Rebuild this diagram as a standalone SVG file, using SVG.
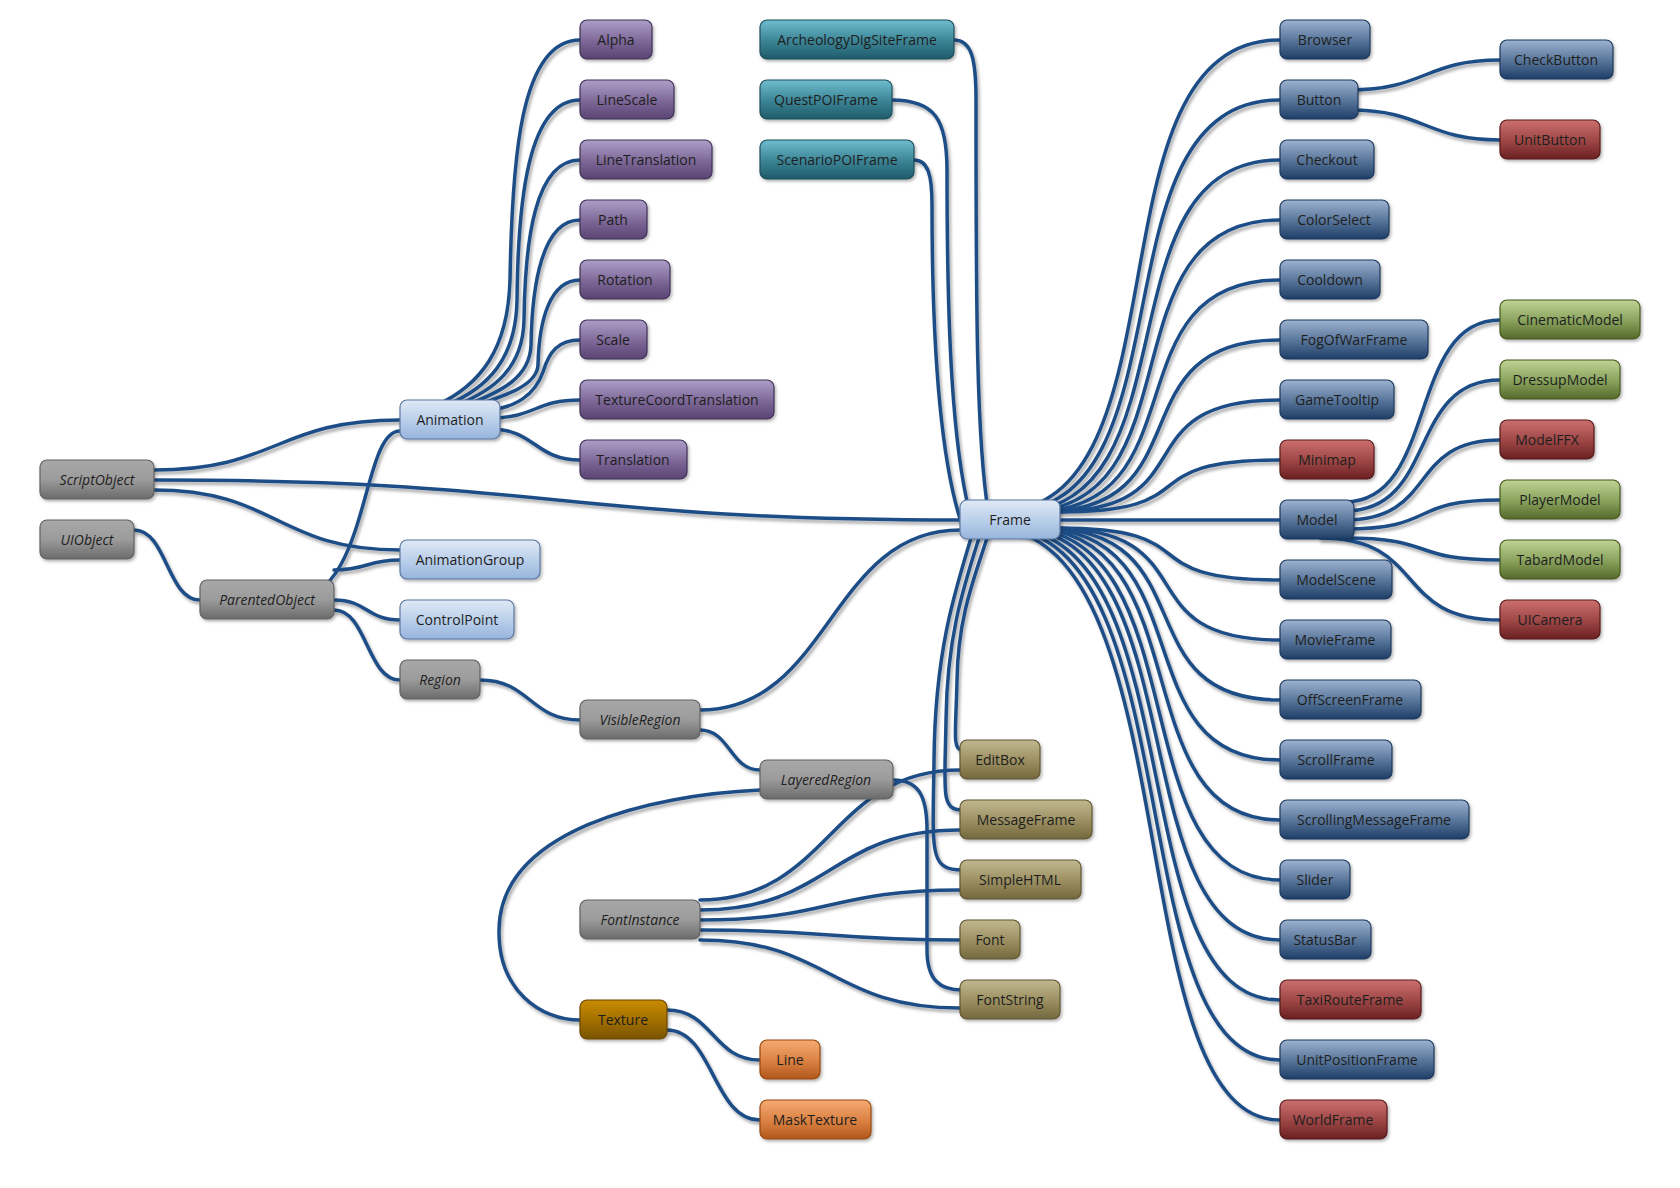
<svg xmlns="http://www.w3.org/2000/svg" width="1680" height="1188" viewBox="0 0 1680 1188">
<defs>
<linearGradient id="gGray" x1="0" y1="0" x2="0" y2="1"><stop offset="0" stop-color="#a9a9a9"/><stop offset="0.5" stop-color="#9b9b9b"/><stop offset="1" stop-color="#6b6b6b"/></linearGradient>
<linearGradient id="gLight" x1="0" y1="0" x2="0" y2="1"><stop offset="0" stop-color="#dfe9f6"/><stop offset="0.6" stop-color="#b4cbe8"/><stop offset="1" stop-color="#97b4db"/></linearGradient>
<linearGradient id="gPurple" x1="0" y1="0" x2="0" y2="1"><stop offset="0" stop-color="#ad9fc8"/><stop offset="0.55" stop-color="#7c6797"/><stop offset="1" stop-color="#594473"/></linearGradient>
<linearGradient id="gTeal" x1="0" y1="0" x2="0" y2="1"><stop offset="0" stop-color="#6fbdcf"/><stop offset="0.55" stop-color="#3a8394"/><stop offset="1" stop-color="#1f5b69"/></linearGradient>
<linearGradient id="gBlue" x1="0" y1="0" x2="0" y2="1"><stop offset="0" stop-color="#9db2d0"/><stop offset="0.55" stop-color="#557398"/><stop offset="1" stop-color="#1f3d67"/></linearGradient>
<linearGradient id="gRed" x1="0" y1="0" x2="0" y2="1"><stop offset="0" stop-color="#cc706e"/><stop offset="0.55" stop-color="#9c4545"/><stop offset="1" stop-color="#6a2020"/></linearGradient>
<linearGradient id="gOlive" x1="0" y1="0" x2="0" y2="1"><stop offset="0" stop-color="#c2b890"/><stop offset="0.55" stop-color="#9a8e60"/><stop offset="1" stop-color="#73683d"/></linearGradient>
<linearGradient id="gGreen" x1="0" y1="0" x2="0" y2="1"><stop offset="0" stop-color="#c0d495"/><stop offset="0.55" stop-color="#87a15b"/><stop offset="1" stop-color="#55692a"/></linearGradient>
<linearGradient id="gTex" x1="0" y1="0" x2="0" y2="1"><stop offset="0" stop-color="#c98b00"/><stop offset="0.55" stop-color="#a06e00"/><stop offset="1" stop-color="#795300"/></linearGradient>
<linearGradient id="gOrange" x1="0" y1="0" x2="0" y2="1"><stop offset="0" stop-color="#f5aa72"/><stop offset="0.55" stop-color="#da8142"/><stop offset="1" stop-color="#b0571a"/></linearGradient>
<filter id="lsh" x="-5%" y="-5%" width="110%" height="110%"><feDropShadow dx="2" dy="3" stdDeviation="1.6" flood-color="#000" flood-opacity="0.32"/></filter>
<filter id="nsh" x="-10%" y="-20%" width="120%" height="150%"><feDropShadow dx="1.5" dy="2" stdDeviation="1.5" flood-color="#000" flood-opacity="0.3"/></filter>
</defs>
<style>
.c path{fill:none;stroke:#1f4d86;stroke-width:3.5;stroke-linecap:round}
.n rect{stroke-width:1.2;filter:url(#nsh)}
.n text{font-family:"Open Sans","Noto Sans","Liberation Sans",sans-serif;font-size:14px;fill:#1e1e1e;text-anchor:middle}
.it text{font-style:italic}
.gray rect{fill:url(#gGray);stroke:#606060}
.light rect{fill:url(#gLight);stroke:#5a77a0}
.purple rect{fill:url(#gPurple);stroke:#3f3056}
.teal rect{fill:url(#gTeal);stroke:#1d4e5a}
.blue rect{fill:url(#gBlue);stroke:#1c375c}
.red rect{fill:url(#gRed);stroke:#561a1a}
.olive rect{fill:url(#gOlive);stroke:#5f5532}
.green rect{fill:url(#gGreen);stroke:#47591f}
.tex rect{fill:url(#gTex);stroke:#684700}
.orange rect{fill:url(#gOrange);stroke:#96480f}
</style>
<rect width="1680" height="1188" fill="#ffffff"/>
<g id="connectors" class="c" filter="url(#lsh)">
<path d="M154,470 C277,470 277,420 400,420"/>
<path d="M154,480 C557,480 557,520 960,520"/>
<path d="M154,490 C277,490 277,550 400,550"/>
<path d="M134,530 C167,530 167,600 200,600"/>
<path d="M290,600 C370,600 360,431 400,431"/>
<path d="M334,570 C367,570 367,560 400,560"/>
<path d="M334,600 C367,600 367,620 400,620"/>
<path d="M334,610 C367,610 367,680 400,680"/>
<path d="M437,405 C480,385 508,350 510,280 C512,160 520,40 580,40"/>
<path d="M447,405 C487,388 516,360 517,300 C518,200 528,100 580,100"/>
<path d="M457,405 C494,390 523,368 524,320 C525,240 535,160 580,160"/>
<path d="M467,405 C500,392 530,378 531,345 C532,285 542,220 580,220"/>
<path d="M477,405 C507,395 537,385 538,365 C539,320 550,280 580,280"/>
<path d="M488,410 C515,408 535,395 543,372 C549,352 558,340 580,340"/>
<path d="M490,418 C535,418 535,400 580,400"/>
<path d="M490,429 C535,429 535,460 580,460"/>
<path d="M480,680 C530,680 530,720 580,720"/>
<path d="M700,710 C830,710 830,530 960,530"/>
<path d="M700,730 C730,730 730,770 760,770"/>
<path d="M760,790 C650,795 500,830 499,930 C498,990 540,1020 580,1020"/>
<path d="M893,780 C918,780 927,795 927,830 L927,950 C927,980 940,990 962,990"/>
<path d="M700,900 C830,900 830,770 960,770"/>
<path d="M700,910 C830,910 830,830 960,830"/>
<path d="M700,920 C830,920 830,890 960,890"/>
<path d="M700,930 C830,930 830,940 960,940"/>
<path d="M700,940 C830,940 830,1008 960,1008"/>
<path d="M667,1010 C713,1010 713,1060 760,1060"/>
<path d="M667,1030 C713,1030 713,1120 760,1120"/>
<path d="M954,40 C972,40 976,60 976,100 C976,300 976,450 990,522"/>
<path d="M892,100 C935,100 947,120 947,170 C947,330 952,450 972,522"/>
<path d="M914,160 C928,160 932,175 932,205 C932,350 940,460 962,525"/>
<path d="M992,522 C978,570 958,610 957,680 C956,730 952,750 962,750"/>
<path d="M984,522 C966,580 947,630 946,720 C945,790 940,810 962,810"/>
<path d="M976,522 C955,590 935,650 934,760 C933,850 928,870 962,870"/>
<path d="M996,512 C1195,512 1081,40 1280,40"/>
<path d="M1005,512 C1198,512 1087,100 1280,100"/>
<path d="M1014,512 C1200,512 1094,160 1280,160"/>
<path d="M1022,512 C1203,512 1099,220 1280,220"/>
<path d="M1031,512 C1205,512 1106,280 1280,280"/>
<path d="M1040,512 C1208,512 1112,340 1280,340"/>
<path d="M1049,512 C1211,512 1118,400 1280,400"/>
<path d="M1058,512 C1213,512 1125,460 1280,460"/>
<path d="M1000,520 L1280,520"/>
<path d="M1058,528 C1213,528 1125,580 1280,580"/>
<path d="M1050,528 C1211,528 1122,640 1280,640"/>
<path d="M1043,528 C1209,528 1121,700 1280,700"/>
<path d="M1035,528 C1207,528 1119,760 1280,760"/>
<path d="M1028,528 C1204,528 1119,820 1280,820"/>
<path d="M1020,528 C1202,528 1117,880 1280,880"/>
<path d="M1013,528 C1200,528 1117,940 1280,940"/>
<path d="M1005,528 C1198,528 1116,1000 1280,1000"/>
<path d="M998,528 C1195,528 1116,1060 1280,1060"/>
<path d="M990,528 C1193,528 1116,1120 1280,1120"/>
<path d="M1350,90 C1425,90 1425,60 1500,60"/>
<path d="M1350,110 C1425,110 1425,140 1500,140"/>
<path d="M1345,502 C1438,502 1407,320 1500,320"/>
<path d="M1345,511 C1438,511 1407,380 1500,380"/>
<path d="M1345,520 C1438,520 1407,440 1500,440"/>
<path d="M1345,529 C1438,529 1407,500 1500,500"/>
<path d="M1345,538 C1438,538 1407,560 1500,560"/>
<path d="M1320,538 C1428,538 1392,620 1500,620"/>
</g>
<g id="n-ScriptObject" class="n gray it"><rect x="40" y="460" width="114" height="39" rx="7"/><text x="97" y="485">ScriptObject</text></g>
<g id="n-UIObject" class="n gray it"><rect x="40" y="520" width="94" height="39" rx="7"/><text x="87" y="545">UIObject</text></g>
<g id="n-ParentedObject" class="n gray it"><rect x="200" y="580" width="134" height="39" rx="7"/><text x="267" y="605">ParentedObject</text></g>
<g id="n-Animation" class="n light"><rect x="400" y="400" width="100" height="39" rx="7"/><text x="450" y="425">Animation</text></g>
<g id="n-AnimationGroup" class="n light"><rect x="400" y="540" width="140" height="39" rx="7"/><text x="470" y="565">AnimationGroup</text></g>
<g id="n-ControlPoint" class="n light"><rect x="400" y="600" width="114" height="39" rx="7"/><text x="457" y="625">ControlPoint</text></g>
<g id="n-Region" class="n gray it"><rect x="400" y="660" width="80" height="39" rx="7"/><text x="440" y="685">Region</text></g>
<g id="n-VisibleRegion" class="n gray it"><rect x="580" y="700" width="120" height="39" rx="7"/><text x="640" y="725">VisibleRegion</text></g>
<g id="n-LayeredRegion" class="n gray it"><rect x="760" y="760" width="133" height="39" rx="7"/><text x="826" y="785">LayeredRegion</text></g>
<g id="n-FontInstance" class="n gray it"><rect x="580" y="900" width="120" height="39" rx="7"/><text x="640" y="925">FontInstance</text></g>
<g id="n-Texture" class="n tex"><rect x="580" y="1000" width="87" height="39" rx="7"/><text x="623" y="1025">Texture</text></g>
<g id="n-Line" class="n orange"><rect x="760" y="1040" width="60" height="39" rx="7"/><text x="790" y="1065">Line</text></g>
<g id="n-MaskTexture" class="n orange"><rect x="760" y="1100" width="111" height="39" rx="7"/><text x="815" y="1125">MaskTexture</text></g>
<g id="n-Alpha" class="n purple"><rect x="580" y="20" width="72" height="39" rx="7"/><text x="616" y="45">Alpha</text></g>
<g id="n-LineScale" class="n purple"><rect x="580" y="80" width="94" height="39" rx="7"/><text x="627" y="105">LineScale</text></g>
<g id="n-LineTranslation" class="n purple"><rect x="580" y="140" width="132" height="39" rx="7"/><text x="646" y="165">LineTranslation</text></g>
<g id="n-Path" class="n purple"><rect x="580" y="200" width="67" height="39" rx="7"/><text x="613" y="225">Path</text></g>
<g id="n-Rotation" class="n purple"><rect x="580" y="260" width="90" height="39" rx="7"/><text x="625" y="285">Rotation</text></g>
<g id="n-Scale" class="n purple"><rect x="580" y="320" width="67" height="39" rx="7"/><text x="613" y="345">Scale</text></g>
<g id="n-TextureCoordTranslation" class="n purple"><rect x="580" y="380" width="194" height="39" rx="7"/><text x="677" y="405">TextureCoordTranslation</text></g>
<g id="n-Translation" class="n purple"><rect x="580" y="440" width="107" height="39" rx="7"/><text x="633" y="465">Translation</text></g>
<g id="n-ArcheologyDigSiteFrame" class="n teal"><rect x="760" y="20" width="194" height="39" rx="7"/><text x="857" y="45">ArcheologyDigSiteFrame</text></g>
<g id="n-QuestPOIFrame" class="n teal"><rect x="760" y="80" width="132" height="39" rx="7"/><text x="826" y="105">QuestPOIFrame</text></g>
<g id="n-ScenarioPOIFrame" class="n teal"><rect x="760" y="140" width="154" height="39" rx="7"/><text x="837" y="165">ScenarioPOIFrame</text></g>
<g id="n-Frame" class="n light"><rect x="960" y="500" width="100" height="39" rx="7"/><text x="1010" y="525">Frame</text></g>
<g id="n-EditBox" class="n olive"><rect x="960" y="740" width="80" height="39" rx="7"/><text x="1000" y="765">EditBox</text></g>
<g id="n-MessageFrame" class="n olive"><rect x="960" y="800" width="132" height="39" rx="7"/><text x="1026" y="825">MessageFrame</text></g>
<g id="n-SimpleHTML" class="n olive"><rect x="960" y="860" width="121" height="39" rx="7"/><text x="1020" y="885">SimpleHTML</text></g>
<g id="n-Font" class="n olive"><rect x="960" y="920" width="60" height="39" rx="7"/><text x="990" y="945">Font</text></g>
<g id="n-FontString" class="n olive"><rect x="960" y="980" width="100" height="39" rx="7"/><text x="1010" y="1005">FontString</text></g>
<g id="n-Browser" class="n blue"><rect x="1280" y="20" width="90" height="39" rx="7"/><text x="1325" y="45">Browser</text></g>
<g id="n-Button" class="n blue"><rect x="1280" y="80" width="78" height="39" rx="7"/><text x="1319" y="105">Button</text></g>
<g id="n-Checkout" class="n blue"><rect x="1280" y="140" width="94" height="39" rx="7"/><text x="1327" y="165">Checkout</text></g>
<g id="n-ColorSelect" class="n blue"><rect x="1280" y="200" width="109" height="39" rx="7"/><text x="1334" y="225">ColorSelect</text></g>
<g id="n-Cooldown" class="n blue"><rect x="1280" y="260" width="100" height="39" rx="7"/><text x="1330" y="285">Cooldown</text></g>
<g id="n-FogOfWarFrame" class="n blue"><rect x="1280" y="320" width="148" height="39" rx="7"/><text x="1354" y="345">FogOfWarFrame</text></g>
<g id="n-GameTooltip" class="n blue"><rect x="1280" y="380" width="114" height="39" rx="7"/><text x="1337" y="405">GameTooltip</text></g>
<g id="n-Minimap" class="n red"><rect x="1280" y="440" width="94" height="39" rx="7"/><text x="1327" y="465">Minimap</text></g>
<g id="n-Model" class="n blue"><rect x="1280" y="500" width="74" height="39" rx="7"/><text x="1317" y="525">Model</text></g>
<g id="n-ModelScene" class="n blue"><rect x="1280" y="560" width="112" height="39" rx="7"/><text x="1336" y="585">ModelScene</text></g>
<g id="n-MovieFrame" class="n blue"><rect x="1280" y="620" width="111" height="39" rx="7"/><text x="1335" y="645">MovieFrame</text></g>
<g id="n-OffScreenFrame" class="n blue"><rect x="1280" y="680" width="141" height="39" rx="7"/><text x="1350" y="705">OffScreenFrame</text></g>
<g id="n-ScrollFrame" class="n blue"><rect x="1280" y="740" width="112" height="39" rx="7"/><text x="1336" y="765">ScrollFrame</text></g>
<g id="n-ScrollingMessageFrame" class="n blue"><rect x="1280" y="800" width="189" height="39" rx="7"/><text x="1374" y="825">ScrollingMessageFrame</text></g>
<g id="n-Slider" class="n blue"><rect x="1280" y="860" width="70" height="39" rx="7"/><text x="1315" y="885">Slider</text></g>
<g id="n-StatusBar" class="n blue"><rect x="1280" y="920" width="91" height="39" rx="7"/><text x="1325" y="945">StatusBar</text></g>
<g id="n-TaxiRouteFrame" class="n red"><rect x="1280" y="980" width="141" height="39" rx="7"/><text x="1350" y="1005">TaxiRouteFrame</text></g>
<g id="n-UnitPositionFrame" class="n blue"><rect x="1280" y="1040" width="154" height="39" rx="7"/><text x="1357" y="1065">UnitPositionFrame</text></g>
<g id="n-WorldFrame" class="n red"><rect x="1280" y="1100" width="107" height="39" rx="7"/><text x="1333" y="1125">WorldFrame</text></g>
<g id="n-CheckButton" class="n blue"><rect x="1500" y="40" width="113" height="39" rx="7"/><text x="1556" y="65">CheckButton</text></g>
<g id="n-UnitButton" class="n red"><rect x="1500" y="120" width="100" height="39" rx="7"/><text x="1550" y="145">UnitButton</text></g>
<g id="n-CinematicModel" class="n green"><rect x="1500" y="300" width="140" height="39" rx="7"/><text x="1570" y="325">CinematicModel</text></g>
<g id="n-DressupModel" class="n green"><rect x="1500" y="360" width="120" height="39" rx="7"/><text x="1560" y="385">DressupModel</text></g>
<g id="n-ModelFFX" class="n red"><rect x="1500" y="420" width="94" height="39" rx="7"/><text x="1547" y="445">ModelFFX</text></g>
<g id="n-PlayerModel" class="n green"><rect x="1500" y="480" width="120" height="39" rx="7"/><text x="1560" y="505">PlayerModel</text></g>
<g id="n-TabardModel" class="n green"><rect x="1500" y="540" width="120" height="39" rx="7"/><text x="1560" y="565">TabardModel</text></g>
<g id="n-UICamera" class="n red"><rect x="1500" y="600" width="100" height="39" rx="7"/><text x="1550" y="625">UICamera</text></g>
</svg>
